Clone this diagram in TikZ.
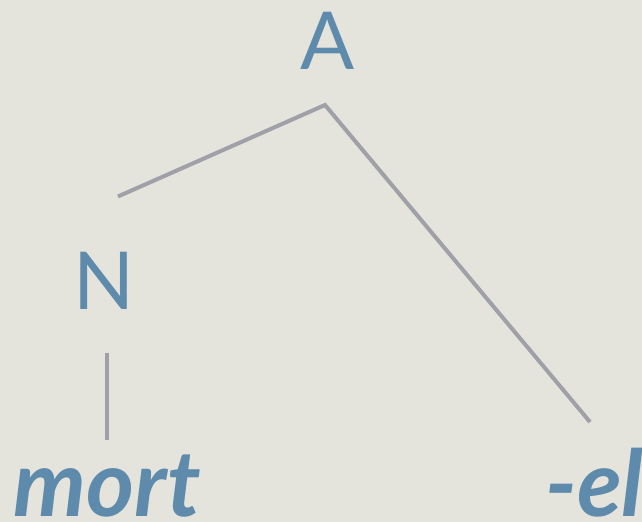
\documentclass[tikz,border=0pt]{standalone}
\usepackage{fontspec}
\setmainfont{Lato}
\definecolor{paperbg}{RGB}{229,228,220}
\definecolor{labelblue}{RGB}{94,138,171}
\definecolor{branchgrey}{RGB}{160,160,168}

\begin{document}
\begin{tikzpicture}[x=1pt,y=1pt,line cap=butt,
    cat/.style={labelblue,inner sep=0pt,anchor=base,font=\fontsize{80}{96}\selectfont},
    word/.style={labelblue,inner sep=0pt,anchor=base,font=\fontsize{92}{110}\selectfont\bfseries\itshape},
    branch/.style={branchgrey,line width=4pt}]
        \fill[paperbg] (0,0) rectangle (642,522);
        \useasboundingbox (0,0) rectangle (642,522);

        \node[cat] (adj) at (328,452) {A};
        \node[cat] (noun) at (104,212) {N};
        \node[word] (stem) at (107,6) {mort};
        \node[word,anchor=base west] (suffix) at (545,6) {-el};

        \draw[branch] ([shift={(14,56)}]noun.north) -- ([shift={(-3,-35)}]adj.base)
            -- ([shift={(45,94)}]suffix.base west);
        \draw[branch] ([shift={(3,-43)}]noun.base) -- ([yshift=76pt]stem.base);
    \end{tikzpicture}
\end{document}
